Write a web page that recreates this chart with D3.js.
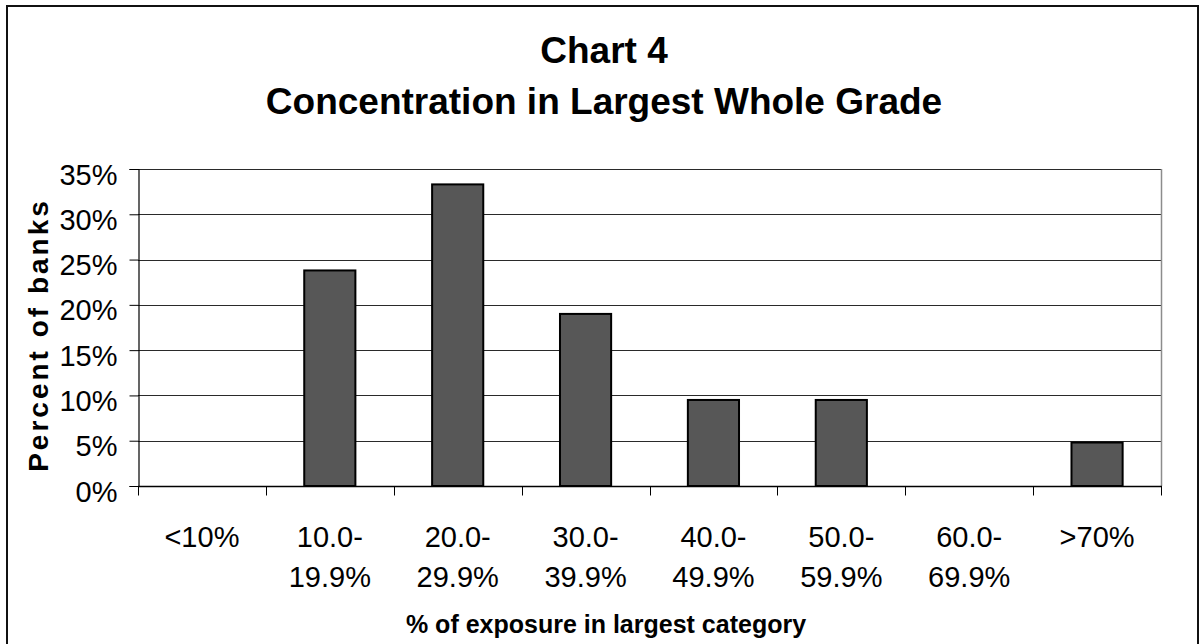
<!DOCTYPE html>
<html>
<head>
<meta charset="utf-8">
<script src="https://cdn.jsdelivr.net/npm/d3@7"></script>
<style>
  html, body { margin: 0; padding: 0; background: #fff; }
  svg { display: block; font-family: "Liberation Sans", Arial, sans-serif; }
</style>
</head>
<body>
<svg id="chart" width="1202" height="644"></svg>
<script>
// Share of banks by the size of their largest whole-grade exposure
const categories = ["<10%", "10.0-19.9%", "20.0-29.9%", "30.0-39.9%", "40.0-49.9%", "50.0-59.9%", "60.0-69.9%", ">70%"];
const categoryLines = [["<10%"], ["10.0-", "19.9%"], ["20.0-", "29.9%"], ["30.0-", "39.9%"], ["40.0-", "49.9%"], ["50.0-", "59.9%"], ["60.0-", "69.9%"], [">70%"]];
const percentOfBanks = [0, 23.8, 33.3, 19.0, 9.5, 9.5, 0, 4.8];
const yTicks = [0, 5, 10, 15, 20, 25, 30, 35];
const titleLines = ["Chart 4", "Concentration in Largest Whole Grade"];
const xTitle = "% of exposure in largest category";
const yTitle = "Percent of banks";

const svg = d3.select("#chart");
const plot = { left: 138, right: 1161, top: 169, bottom: 486 };

// outer frame
svg.append("rect")
  .attr("x", 7).attr("y", 6).attr("width", 1191).attr("height", 660)
  .attr("fill", "#fff").attr("stroke", "#111").attr("stroke-width", 2);

// titles
svg.append("g").selectAll("text").data(titleLines).join("text")
  .attr("x", 604).attr("y", (d, i) => 63 + i * 51)
  .attr("text-anchor", "middle")
  .attr("font-size", 37).attr("font-weight", "bold").attr("fill", "#000")
  .text(d => d);

// scales
const y = d3.scaleLinear().domain([0, 35]).range([plot.bottom, plot.top]);
const xCat = d3.scaleBand().domain(categories).range([plot.left, plot.right]).padding(0);
const xBar = d3.scaleBand().domain(categories).range([plot.left, plot.right])
  .paddingInner(0.6).paddingOuter(0.3);

// gridlines
svg.append("g").selectAll("line").data(yTicks.filter(t => t > 0)).join("line")
  .attr("x1", plot.left).attr("x2", plot.right)
  .attr("y1", d => Math.round(y(d)) + 0.5).attr("y2", d => Math.round(y(d)) + 0.5)
  .attr("stroke", "#2a2a2a").attr("stroke-width", 1);

// plot area right edge
svg.append("line")
  .attr("x1", plot.right + 0.5).attr("x2", plot.right + 0.5)
  .attr("y1", plot.top).attr("y2", plot.bottom)
  .attr("stroke", "#8c8c8c").attr("stroke-width", 1.5);

// bars
svg.append("g").selectAll("rect").data(categories.map((c, i) => ({ c, v: percentOfBanks[i] })).filter(d => d.v > 0))
  .join("rect")
  .attr("x", d => xBar(d.c))
  .attr("y", d => y(d.v))
  .attr("width", xBar.bandwidth())
  .attr("height", d => y(0) - y(d.v))
  .attr("fill", "#575757").attr("stroke", "#000").attr("stroke-width", 2);

// y axis
const yAxis = d3.axisLeft(y).tickValues(yTicks).tickFormat(d => d + "%").tickSize(9).tickPadding(12);
const gy = svg.append("g").attr("transform", `translate(${plot.left + 0.5},0)`).call(yAxis);
gy.select(".domain").attr("stroke", "#000").attr("stroke-width", 1.2);
gy.selectAll(".tick line").attr("stroke", "#000");
gy.selectAll(".tick text")
  .attr("font-size", 29).attr("font-family", "Liberation Sans, Arial, sans-serif")
  .attr("fill", "#000").attr("dy", "0.52em");

// x axis line with ticks at category boundaries
const gx = svg.append("g").attr("transform", `translate(0,${plot.bottom + 0.5})`);
gx.append("line").attr("x1", plot.left).attr("x2", plot.right + 1)
  .attr("stroke", "#000").attr("stroke-width", 1.5);
const boundaries = categories.map(c => xCat(c)).concat([xCat(categories[categories.length - 1]) + xCat.bandwidth()]);
gx.selectAll("line.tk").data(boundaries).join("line").attr("class", "tk")
  .attr("x1", d => Math.round(d) + 0.5).attr("x2", d => Math.round(d) + 0.5)
  .attr("y1", 0).attr("y2", 9).attr("stroke", "#000").attr("stroke-width", 1);

// category labels
const lab = svg.append("g").selectAll("text").data(categories).join("text")
  .attr("text-anchor", "middle")
  .attr("font-size", 29).attr("fill", "#000");
lab.each(function (c, i) {
  d3.select(this).selectAll("tspan").data(categoryLines[i]).join("tspan")
    .attr("x", xCat(c) + xCat.bandwidth() / 2)
    .attr("y", (d, j) => 547 + j * 40)
    .text(d => d);
});

// axis titles
svg.append("text")
  .attr("x", 606).attr("y", 633)
  .attr("text-anchor", "middle")
  .attr("font-size", 25).attr("font-weight", "bold").attr("fill", "#000")
  .text(xTitle);

svg.append("text")
  .attr("transform", "translate(48,335) rotate(-90)")
  .attr("text-anchor", "middle")
  .attr("font-size", 28).attr("font-weight", "bold").attr("letter-spacing", 3).attr("fill", "#000")
  .text(yTitle);
</script>
</body>
</html>
